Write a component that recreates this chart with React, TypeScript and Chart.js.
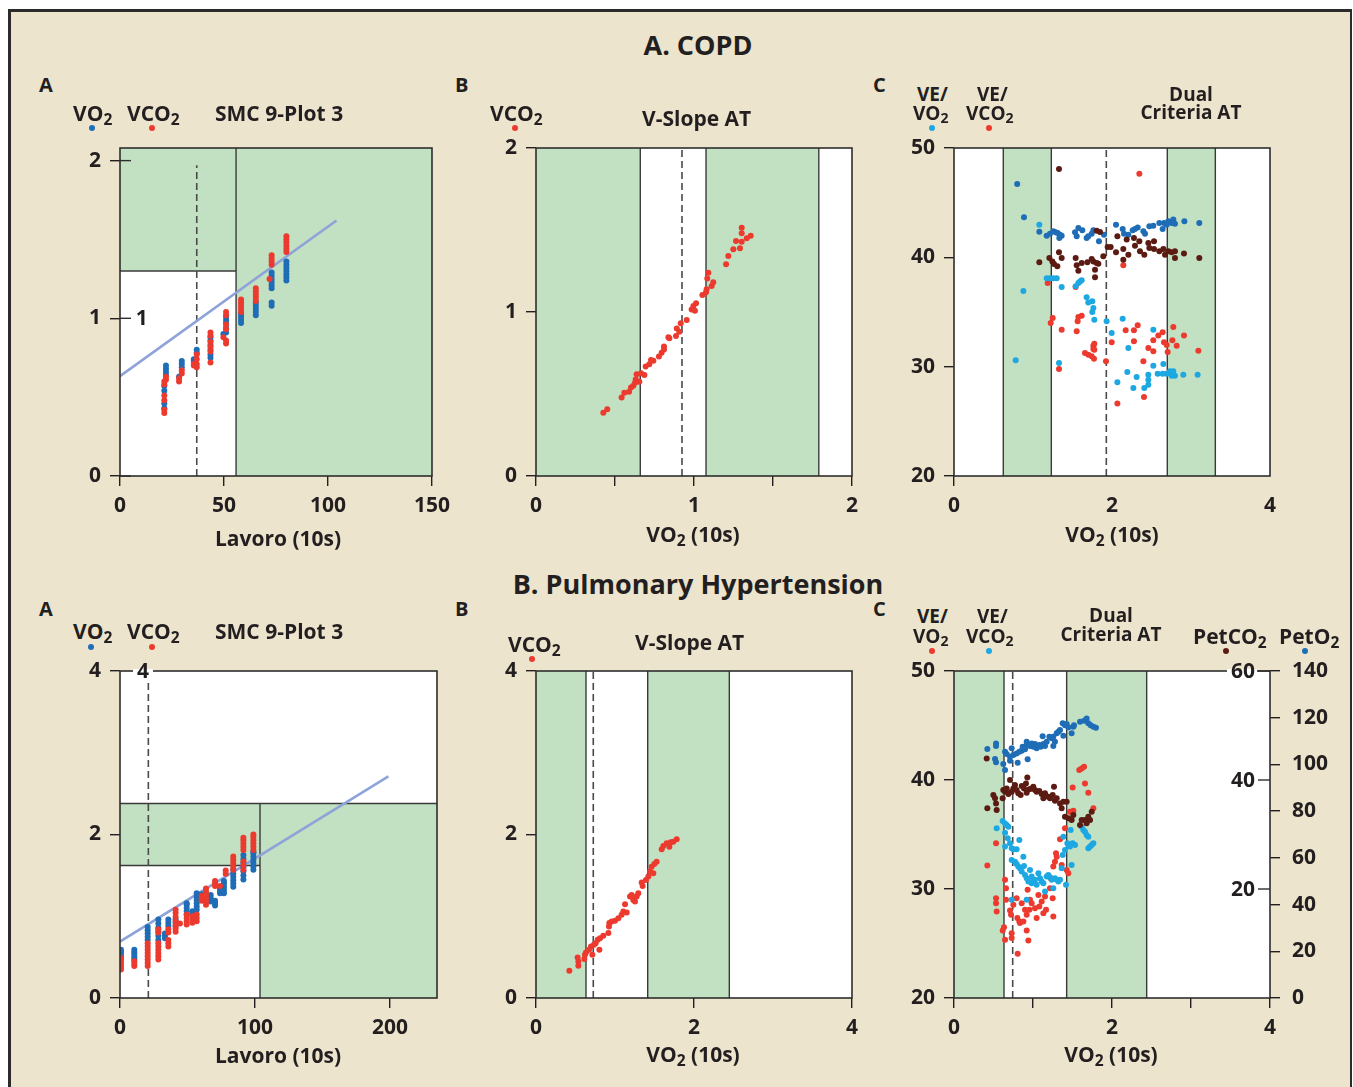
import React, { useEffect, useRef } from 'react';
import { Chart, registerables } from 'chart.js';

Chart.register(...registerables);

type P = [number, number];

const INK = '#231f20';
const RED = '#ec3a2f';
const BLUE = '#1e6db6';
const LIGHT = '#1da8e2';
const BROWN = '#5b1b12';
const GREEN = '#c2e0c2';
const FIT = '#8ea3d9';
const BEIGE = '#ede4cd';
const RULE = '#3a3a3a';
const FONT = "'Open Sans', 'Noto Sans', 'DejaVu Sans', sans-serif";
const W_TXT = 700;

// ---------------- A. COPD ----------------
// Panel A: VO2 / VCO2 vs Lavoro
const A1_VO2: P[] = [
  [21.3, 0.43], [21.3, 0.46], [21.3, 0.54], [21.3, 0.57],
  [22.1, 0.64], [22.1, 0.66], [22.1, 0.68], [22.1, 0.70],
  [28.4, 0.63],
  [29.7, 0.69], [29.7, 0.71], [29.7, 0.73],
  [35.5, 0.73], [35.5, 0.74],
  [36.9, 0.78], [36.9, 0.80],
  [43.5, 0.75], [43.5, 0.77], [43.5, 0.80], [43.5, 0.83], [43.5, 0.86], [43.5, 0.88],
  [49.7, 0.90],
  [51.0, 0.91], [51.0, 0.94], [51.0, 0.97], [51.0, 0.99], [51.0, 1.01],
  [58.2, 0.97], [58.2, 0.99], [58.2, 1.01], [58.2, 1.03],
  [65.3, 1.02], [65.3, 1.04], [65.3, 1.06], [65.3, 1.08], [65.3, 1.10],
  [72.9, 1.08], [72.9, 1.10], [72.9, 1.19], [72.9, 1.21], [72.9, 1.23], [72.9, 1.25], [72.9, 1.27], [72.9, 1.29],
  [80.0, 1.24], [80.0, 1.26], [80.0, 1.28], [80.0, 1.30], [80.0, 1.32], [80.0, 1.34], [80.0, 1.36],
];
const A1_VCO2: P[] = [
  [21.3, 0.40], [21.3, 0.42], [21.3, 0.48], [21.3, 0.51], [21.3, 0.58], [21.3, 0.60],
  [22.1, 0.61], [22.1, 0.63],
  [28.4, 0.60], [28.4, 0.62],
  [29.7, 0.65], [29.7, 0.67],
  [35.5, 0.70], [35.5, 0.71],
  [36.9, 0.69], [36.9, 0.71], [36.9, 0.74], [36.9, 0.77],
  [43.5, 0.72], [43.5, 0.79], [43.5, 0.82], [43.5, 0.85], [43.5, 0.89], [43.5, 0.91],
  [49.7, 0.88],
  [51.0, 0.84], [51.0, 0.86], [51.0, 0.93], [51.0, 0.96], [51.0, 1.02], [51.0, 1.04],
  [58.2, 1.04], [58.2, 1.06], [58.2, 1.08], [58.2, 1.10], [58.2, 1.12],
  [65.3, 1.11], [65.3, 1.13], [65.3, 1.15], [65.3, 1.17], [65.3, 1.19],
  [71.9, 1.25],
  [72.9, 1.34], [72.9, 1.36], [72.9, 1.38], [72.9, 1.40],
  [80.0, 1.42], [80.0, 1.44], [80.0, 1.46], [80.0, 1.48], [80.0, 1.50], [80.0, 1.52],
];
const A1_FIT: P[] = [[0, 0.633], [104.1, 1.62]];
const A1_X_TICKS = [0, 50, 100, 150];
const A1_Y_TICKS = [0, 1, 2];
const A1_SPLIT: P = [55.8, 1.3];
const A1_AT = 36.9;

// Panel B: V-slope
const B1_VCO2: P[] = [
  [0.426, 0.386], [0.451, 0.407], [0.542, 0.478], [0.559, 0.508], [0.589, 0.514], [0.601, 0.539],
  [0.616, 0.551], [0.627, 0.569], [0.631, 0.589], [0.637, 0.620], [0.654, 0.575], [0.665, 0.626],
  [0.686, 0.616], [0.694, 0.667], [0.717, 0.681], [0.728, 0.707], [0.743, 0.703], [0.778, 0.728],
  [0.795, 0.752], [0.810, 0.772], [0.810, 0.789], [0.838, 0.846], [0.844, 0.840], [0.886, 0.854],
  [0.891, 0.900], [0.907, 0.880], [0.916, 0.931], [0.954, 0.951], [0.985, 1.016], [0.996, 1.037],
  [1.006, 1.008], [1.013, 1.053], [1.053, 1.104], [1.076, 1.120], [1.080, 1.138], [1.084, 1.205],
  [1.091, 1.240], [1.112, 1.159], [1.122, 1.181], [1.203, 1.291], [1.217, 1.341], [1.249, 1.382],
  [1.266, 1.433], [1.291, 1.388], [1.302, 1.429], [1.302, 1.480], [1.302, 1.514], [1.334, 1.449],
  [1.359, 1.465],
];
const B1_BANDS: P[] = [[0, 0.66], [1.076, 1.79]];
const B1_AT = 0.924;

// Panel C: dual criteria
const C1_VE_VO2: P[] = [
  [0.781, 30.58], [0.878, 36.92], [1.08, 42.99], [1.173, 38.08], [1.215, 38.08], [1.257, 38.08],
  [1.300, 38.08], [1.363, 37.29], [1.540, 37.35], [1.574, 37.65], [1.595, 37.80], [1.616, 37.90],
  [1.679, 36.34], [1.700, 35.88], [1.751, 35.98], [1.764, 35.37], [1.751, 35.0], [1.776, 34.30],
  [1.932, 34.15], [1.996, 33.08], [2.135, 34.39], [2.207, 31.71], [2.194, 29.51], [2.270, 28.05],
  [2.312, 29.05], [2.409, 28.05], [2.460, 29.27], [2.460, 28.81], [2.460, 28.35], [2.523, 30.09],
  [2.523, 33.38], [2.578, 29.36], [2.641, 29.36], [2.650, 30.24], [2.692, 29.36], [2.734, 29.57],
  [2.755, 29.18], [2.776, 29.57], [2.797, 29.18], [2.903, 29.27], [3.084, 29.27], [2.068, 28.57],
  [1.329, 30.34],
];
const C1_VE_VCO2: P[] = [
  [2.346, 47.65], [2.143, 39.27], [1.186, 37.65], [1.249, 34.45], [1.224, 33.99], [1.363, 33.38],
  [1.540, 37.29], [1.553, 33.23], [1.565, 34.15], [1.574, 34.54], [1.616, 34.66], [1.658, 31.25],
  [1.700, 31.10], [1.743, 30.95], [1.772, 30.73], [1.764, 31.92], [1.776, 32.10], [1.764, 31.62],
  [1.776, 31.55], [1.924, 30.49], [1.996, 32.23], [2.068, 26.62], [2.173, 33.32], [2.278, 33.32],
  [2.278, 32.32], [2.325, 33.78], [2.397, 30.49], [2.405, 27.23], [2.460, 31.71], [2.523, 31.40],
  [2.523, 32.41], [2.586, 32.84], [2.641, 33.14], [2.658, 32.23], [2.692, 31.98], [2.705, 31.34],
  [2.764, 32.41], [2.776, 33.63], [2.819, 31.92], [2.911, 32.84], [3.093, 31.46], [1.329, 29.79],
];
const C1_PETO2: P[] = [
  [0.80, 46.7], [0.886, 43.66], [1.08, 42.35], [1.173, 41.98], [1.215, 42.16], [1.257, 42.38],
  [1.287, 42.29], [1.312, 42.23], [1.342, 42.07], [1.333, 41.77], [1.363, 41.98], [1.532, 42.29],
  [1.553, 41.92], [1.574, 42.68], [1.624, 42.47], [1.679, 41.77], [1.700, 41.92], [1.743, 42.16],
  [1.764, 42.47], [1.835, 41.46], [1.899, 42.07], [2.051, 42.99], [2.135, 42.59], [2.152, 42.16],
  [2.207, 42.07], [2.262, 42.47], [2.291, 42.59], [2.325, 42.74], [2.397, 42.38], [2.418, 42.16],
  [2.473, 42.84], [2.523, 42.90], [2.599, 43.14], [2.641, 42.59], [2.658, 43.14], [2.692, 42.99],
  [2.713, 43.29], [2.755, 43.14], [2.776, 43.45], [2.797, 43.08], [2.916, 43.29], [3.105, 43.14],
];
const C1_PETCO2: P[] = [
  [1.329, 48.08], [1.08, 39.54], [1.207, 39.94], [1.245, 39.63], [1.266, 39.39], [1.308, 39.18],
  [1.329, 40.46], [1.363, 39.94], [1.540, 39.94], [1.553, 39.27], [1.574, 38.78], [1.616, 39.48],
  [1.688, 39.54], [1.743, 39.85], [1.764, 39.63], [1.785, 38.87], [1.785, 38.17], [1.806, 39.48],
  [1.827, 39.42], [1.806, 42.44], [1.848, 42.32], [1.890, 40.09], [1.945, 40.95], [1.983, 40.95],
  [2.051, 40.46], [2.068, 41.92], [2.143, 40.76], [2.143, 39.79], [2.186, 41.62], [2.207, 40.24],
  [2.278, 41.77], [2.291, 41.07], [2.346, 41.46], [2.354, 40.55], [2.409, 40.24], [2.460, 41.31],
  [2.473, 40.85], [2.532, 41.46], [2.532, 40.76], [2.599, 40.55], [2.650, 40.76], [2.671, 40.24],
  [2.713, 40.55], [2.755, 40.46], [2.797, 40.55], [2.797, 39.94], [2.911, 40.34], [3.105, 39.94],
];
const C1_BANDS: P[] = [[0.624, 1.232], [2.70, 3.308]];
const C1_AT = 1.928;

// ---------------- B. Pulmonary Hypertension ----------------
const A2_VO2: P[] = [
  [0.7, 0.51], [0.7, 0.54], [0.7, 0.57], [0.7, 0.59],
  [10.6, 0.47], [10.6, 0.50], [10.6, 0.53], [10.6, 0.56], [10.6, 0.59],
  [20.5, 0.71], [20.5, 0.75], [20.5, 0.79], [20.5, 0.83], [20.5, 0.87],
  [28.4, 0.71], [28.4, 0.76], [28.4, 0.81], [28.4, 0.86], [28.4, 0.91], [28.4, 0.96],
  [33.3, 0.73], [33.3, 0.76], [33.3, 0.79],
  [35.8, 0.88], [35.8, 0.92], [35.8, 0.96],
  [41.2, 0.88], [41.2, 0.92], [41.2, 0.96],
  [49.4, 1.02], [49.4, 1.06], [49.4, 1.10], [49.4, 1.14], [49.4, 1.16],
  [53.6, 1.02], [53.6, 1.06],
  [56.8, 1.08], [56.8, 1.12], [56.8, 1.16], [56.8, 1.20], [56.8, 1.24], [56.8, 1.28],
  [60.5, 1.20], [60.5, 1.24], [60.5, 1.27],
  [63.7, 1.23], [63.7, 1.26],
  [67.2, 1.18], [67.2, 1.22], [67.2, 1.26],
  [70.4, 1.13], [70.4, 1.16], [70.4, 1.19],
  [74.1, 1.28], [74.1, 1.31], [74.1, 1.34],
  [77.0, 1.28], [77.0, 1.32], [77.0, 1.36], [77.0, 1.40], [77.0, 1.43],
  [83.9, 1.36], [83.9, 1.40], [83.9, 1.44], [83.9, 1.48], [83.9, 1.52], [83.9, 1.57],
  [91.4, 1.45], [91.4, 1.50], [91.4, 1.55], [91.4, 1.60], [91.4, 1.65], [91.4, 1.70], [91.4, 1.75],
  [98.8, 1.57], [98.8, 1.61], [98.8, 1.65], [98.8, 1.69], [98.8, 1.73], [98.8, 1.77], [98.8, 1.79],
];
const A2_VCO2: P[] = [
  [0.7, 0.35], [0.7, 0.38], [0.7, 0.41], [0.7, 0.44], [0.7, 0.47], [0.7, 0.49],
  [10.6, 0.39], [10.6, 0.42], [10.6, 0.45],
  [20.5, 0.39], [20.5, 0.43], [20.5, 0.47], [20.5, 0.51], [20.5, 0.55], [20.5, 0.59], [20.5, 0.63], [20.5, 0.67],
  [28.4, 0.47], [28.4, 0.51], [28.4, 0.55], [28.4, 0.59], [28.4, 0.63], [28.4, 0.67], [28.4, 0.80], [28.4, 0.84],
  [35.8, 0.63], [35.8, 0.67], [35.8, 0.71], [35.8, 0.80], [35.8, 0.84],
  [41.2, 0.81], [41.2, 0.85], [41.2, 0.89], [41.2, 0.94], [41.2, 0.99], [41.2, 1.04], [41.2, 1.08],
  [44.4, 0.91],
  [49.4, 0.90], [49.4, 0.94], [49.4, 0.98], [49.4, 1.02],
  [53.6, 0.92], [53.6, 0.96], [53.6, 1.00],
  [56.8, 0.94], [56.8, 0.98], [56.8, 1.02],
  [60.5, 1.19], [60.5, 1.22], [60.5, 1.25],
  [63.7, 1.14], [63.7, 1.18], [63.7, 1.22], [63.7, 1.26], [63.7, 1.30], [63.7, 1.34],
  [70.4, 1.37], [70.4, 1.40], [70.4, 1.43],
  [74.1, 1.37],
  [78.3, 1.52], [78.3, 1.56],
  [83.9, 1.57], [83.9, 1.61], [83.9, 1.65], [83.9, 1.69], [83.9, 1.73],
  [91.4, 1.57], [91.4, 1.62], [91.4, 1.67], [91.4, 1.81], [91.4, 1.85], [91.4, 1.89], [91.4, 1.93], [91.4, 1.96],
  [98.8, 1.81], [98.8, 1.85], [98.8, 1.89], [98.8, 1.93], [98.8, 1.97], [98.8, 2.00],
];
const A2_FIT: P[] = [[0, 0.69], [198.8, 2.71]];
const A2_X_TICKS = [0, 100, 200];
const A2_Y_TICKS = [0, 2, 4];
const A2_SPLIT: [number, number, number] = [103.7, 1.62, 2.38];
const A2_AT = 21;

const B2_VCO2: P[] = [
  [0.422, 0.333], [0.527, 0.496], [0.536, 0.447], [0.536, 0.394], [0.612, 0.476], [0.620, 0.529],
  [0.633, 0.557], [0.671, 0.590], [0.696, 0.630], [0.713, 0.529], [0.734, 0.651], [0.755, 0.671],
  [0.781, 0.712], [0.802, 0.590], [0.810, 0.732], [0.852, 0.761], [0.916, 0.794], [0.924, 0.874],
  [0.928, 0.916], [0.958, 0.935], [1.000, 0.944], [1.042, 0.977], [1.084, 1.017], [1.105, 1.057],
  [1.127, 1.148], [1.148, 1.045], [1.190, 1.241], [1.211, 1.261], [1.232, 1.200], [1.253, 1.180],
  [1.274, 1.241], [1.295, 1.282], [1.338, 1.412], [1.350, 1.371], [1.392, 1.444], [1.422, 1.485],
  [1.443, 1.546], [1.464, 1.607], [1.485, 1.526], [1.498, 1.640], [1.527, 1.668], [1.591, 1.819],
  [1.612, 1.860], [1.654, 1.892], [1.688, 1.851], [1.705, 1.905], [1.738, 1.912], [1.781, 1.941],
];
const B2_BANDS: P[] = [[0, 0.633], [1.414, 2.447]];
const B2_AT = 0.725;

const C2_VE_VO2: P[] = [
  [0.422, 32.15], [0.532, 34.19], [0.532, 29.16], [0.532, 28.70], [0.540, 27.94], [0.616, 26.20],
  [0.633, 26.50], [0.646, 25.34], [0.646, 30.84], [0.658, 30.07], [0.658, 29.01], [0.709, 28.03],
  [0.722, 27.63], [0.730, 25.95], [0.730, 25.50], [0.751, 28.55], [0.793, 29.16], [0.802, 27.33],
  [0.806, 24.06], [0.827, 27.02], [0.835, 26.87], [0.857, 28.70], [0.878, 27.02], [0.899, 28.09],
  [0.920, 26.20], [0.920, 27.63], [0.932, 29.92], [0.941, 25.28], [0.954, 28.09], [0.962, 29.01],
  [0.983, 28.70], [1.025, 28.24], [1.046, 27.33], [1.068, 29.46], [1.080, 28.39], [1.110, 28.85],
  [1.131, 27.78], [1.152, 29.31], [1.165, 28.09], [1.215, 30.07], [1.224, 30.99], [1.249, 29.16],
  [1.257, 27.48], [1.257, 32.06], [1.278, 32.51], [1.291, 33.28], [1.300, 32.97], [1.342, 34.56],
  [1.363, 32.21], [1.405, 35.57], [1.426, 31.75], [1.447, 31.45], [1.468, 37.09], [1.502, 39.32],
  [1.586, 40.91], [1.616, 41.06], [1.646, 41.21], [1.658, 39.69], [1.700, 38.83], [1.764, 37.40],
  [1.489, 37.09], [1.511, 37.18],
];
const C2_VE_VCO2: P[] = [
  [0.540, 35.57], [0.616, 36.24], [0.646, 36.02], [0.667, 35.87], [0.688, 35.72], [0.646, 35.17],
  [0.646, 33.89], [0.680, 34.65], [0.709, 34.19], [0.730, 33.74], [0.751, 33.64], [0.793, 33.64],
  [0.827, 34.50], [0.730, 32.67], [0.772, 32.51], [0.793, 32.30], [0.814, 32.06], [0.835, 31.90],
  [0.857, 31.60], [0.878, 32.97], [0.886, 32.12], [0.899, 31.29], [0.920, 30.99], [0.941, 30.68],
  [0.962, 31.75], [0.983, 31.14], [0.983, 30.53], [1.004, 30.78], [1.025, 30.84], [1.046, 30.38],
  [1.068, 31.45], [1.089, 30.99], [1.110, 30.68], [1.131, 30.53], [1.152, 29.77], [1.173, 31.14],
  [1.194, 31.29], [1.215, 31.08], [1.236, 30.84], [1.257, 30.07], [1.278, 30.99], [1.300, 30.84],
  [1.321, 30.68], [1.342, 30.84], [1.363, 31.90], [1.376, 33.12], [1.384, 34.80], [1.405, 33.58],
  [1.418, 30.38], [1.435, 34.19], [1.447, 34.04], [1.468, 33.89], [1.477, 35.41], [1.489, 32.21],
  [1.502, 34.19], [1.532, 34.04], [1.616, 35.72], [1.637, 35.41], [1.658, 35.26], [1.679, 34.96],
  [1.700, 34.80], [1.700, 33.74], [1.722, 33.89], [1.743, 34.04], [1.764, 34.19], [0.730, 29.01],
  [0.920, 29.01],
];
const C2_PETO2: P[] = [
  [0.422, 106.6], [0.532, 109.0], [0.532, 107.9], [0.519, 102.3], [0.532, 100.9], [0.624, 100.2],
  [0.646, 97.6], [0.646, 105.4], [0.667, 104.5], [0.709, 103.3], [0.709, 101.6], [0.730, 106.9],
  [0.751, 104.0], [0.793, 104.7], [0.806, 100.7], [0.827, 105.4], [0.857, 105.9], [0.869, 107.6],
  [0.899, 106.5], [0.920, 109.7], [0.920, 108.3], [0.932, 102.2], [0.962, 107.9], [0.983, 109.0],
  [1.004, 107.6], [1.025, 108.7], [1.046, 106.9], [1.080, 108.3], [1.097, 107.6], [1.122, 112.1],
  [1.131, 108.7], [1.152, 107.9], [1.173, 109.7], [1.207, 111.8], [1.236, 111.2], [1.257, 111.8],
  [1.257, 107.9], [1.278, 109.7], [1.300, 113.3], [1.321, 114.0], [1.342, 114.7], [1.376, 117.6],
  [1.384, 112.3], [1.405, 116.8], [1.426, 117.3], [1.447, 115.9], [1.489, 113.3], [1.511, 116.1],
  [1.519, 116.8], [1.595, 118.3], [1.646, 118.7], [1.679, 119.7], [1.700, 117.6], [1.730, 116.8],
  [1.764, 116.1], [1.797, 115.7],
];
const C2_PETCO2: P[] = [
  [0.414, 43.96], [0.422, 34.80], [0.498, 37.24], [0.519, 36.63], [0.532, 35.71], [0.540, 34.49],
  [0.616, 36.63], [0.624, 38.15], [0.646, 37.84], [0.667, 38.46], [0.688, 37.42], [0.709, 39.98],
  [0.730, 37.84], [0.751, 38.46], [0.772, 39.07], [0.793, 38.15], [0.814, 37.55], [0.844, 37.24],
  [0.857, 38.88], [0.886, 38.46], [0.911, 39.38], [0.920, 37.66], [0.928, 40.48], [0.954, 38.28],
  [0.983, 38.46], [1.004, 38.75], [1.025, 38.15], [1.046, 37.84], [1.080, 37.97], [1.110, 37.42],
  [1.131, 36.63], [1.152, 37.55], [1.194, 36.92], [1.215, 36.63], [1.249, 37.24], [1.266, 38.75],
  [1.278, 36.19], [1.300, 36.63], [1.342, 35.71], [1.363, 34.80], [1.384, 36.01], [1.426, 36.01],
  [1.405, 33.26], [1.447, 32.97], [1.489, 32.66], [1.511, 33.57], [1.595, 31.74], [1.616, 32.66],
  [1.658, 32.66], [1.679, 32.05], [1.700, 33.26], [1.722, 32.66], [1.743, 34.18],
];
const C2_BANDS: P[] = [[0, 0.633], [1.426, 2.439]];
const C2_AT = 0.743;
const C2_PETO2_TICKS = [0, 20, 40, 60, 80, 100, 120, 140];
const C2_PETCO2_TICKS = [20, 40, 60];

// ---------------- chart plumbing ----------------
interface AxisSpec { min: number; max: number; ticks: number[]; labels?: number[]; marks?: number[] }
interface SeriesSpec { data: P[]; color: string; axis?: string }
interface RuleSpec { x0: number; y0: number; x1: number; y1: number; dashed?: boolean }
interface InnerLabel { text: string; x: number; y: number; erase?: boolean }
interface PanelSpec {
  box: [number, number, number, number];
  x: AxisSpec;
  y: AxisSpec;
  y2?: AxisSpec;
  y1?: { min: number; max: number; ticks: number[] };
  series: SeriesSpec[];
  fit?: P[];
  bands: [number, number, number, number][];
  rules: RuleSpec[];
  crossTicks?: boolean;
  inner?: InnerLabel[];
}

const TICK_FONT = { family: FONT, size: 21, weight: '700' as const };

function axisOpts(a: AxisSpec, pos: 'bottom' | 'left' | 'right', size: number, pad: number) {
  const labels = a.labels ?? a.ticks;
  const marks = a.marks ?? a.ticks;
  return {
    type: 'linear',
    position: pos,
    min: a.min,
    max: a.max,
    afterBuildTicks: (s: any) => {
      s.ticks = a.ticks.map((v) => ({ value: v }));
    },
    afterFit: (s: any) => {
      if (pos === 'bottom') s.height = size;
      else s.width = size;
    },
    ticks: {
      autoSkip: false,
      maxRotation: 0,
      minRotation: 0,
      padding: pad,
      color: INK,
      font: TICK_FONT,
      callback: (v: any) => (labels.includes(Number(v)) ? String(v) : ''),
    },
    grid: {
      display: true,
      drawOnChartArea: false,
      drawTicks: true,
      tickLength: 10,
      lineWidth: 1.4,
      tickWidth: 1.4,
      color: 'rgba(0,0,0,0)',
      tickColor: (c: any) => (c.tick && marks.includes(c.tick.value) ? INK : 'rgba(0,0,0,0)'),
    },
    border: { display: false },
  };
}

function decoPlugin(p: PanelSpec) {
  return {
    id: 'deco',
    beforeDraw(chart: any) {
      const { ctx, chartArea: a } = chart;
      ctx.save();
      ctx.fillStyle = '#ffffff';
      ctx.fillRect(a.left, a.top, a.right - a.left, a.bottom - a.top);
      ctx.restore();
    },
    beforeDatasetsDraw(chart: any) {
      const { ctx } = chart;
      const xs = chart.scales.x;
      const ys = chart.scales.y;
      ctx.save();
      ctx.fillStyle = GREEN;
      for (const [x0, x1, y0, y1] of p.bands) {
        const px0 = xs.getPixelForValue(x0);
        const px1 = xs.getPixelForValue(x1);
        const py0 = ys.getPixelForValue(y0);
        const py1 = ys.getPixelForValue(y1);
        ctx.fillRect(Math.min(px0, px1), Math.min(py0, py1), Math.abs(px1 - px0), Math.abs(py1 - py0));
      }
      for (const r of p.rules) {
        ctx.beginPath();
        ctx.setLineDash(r.dashed ? [7, 4] : []);
        ctx.strokeStyle = r.dashed ? '#4a4a4a' : RULE;
        ctx.lineWidth = r.dashed ? 1.6 : 1.4;
        ctx.moveTo(xs.getPixelForValue(r.x0), ys.getPixelForValue(r.y0));
        ctx.lineTo(xs.getPixelForValue(r.x1), ys.getPixelForValue(r.y1));
        ctx.stroke();
      }
      ctx.restore();
    },
    afterDatasetsDraw(chart: any) {
      const { ctx, chartArea: a } = chart;
      const xs = chart.scales.x;
      const ys = chart.scales.y;
      ctx.save();
      ctx.setLineDash([]);
      ctx.strokeStyle = '#2e2e2e';
      ctx.lineWidth = 1.6;
      ctx.strokeRect(a.left, a.top, a.right - a.left, a.bottom - a.top);
      if (p.crossTicks) {
        ctx.lineWidth = 1.4;
        for (const v of p.y.ticks) {
          const py = ys.getPixelForValue(v);
          ctx.beginPath();
          ctx.moveTo(a.left, py);
          ctx.lineTo(a.left + 11, py);
          ctx.stroke();
        }
      }
      ctx.font = `700 21px ${FONT}`;
      ctx.textBaseline = 'middle';
      ctx.textAlign = 'center';
      for (const l of p.inner || []) {
        const px = xs.getPixelForValue(l.x);
        const py = ys.getPixelForValue(l.y);
        const w = ctx.measureText(l.text).width;
        if (l.erase) {
          ctx.fillStyle = '#ffffff';
          ctx.fillRect(px - w / 2 - 4, py - 2, w + 8, 4);
        }
        ctx.fillStyle = INK;
        ctx.fillText(l.text, px, py + 1);
      }
      if (p.y1) {
        const s = chart.scales.y1;
        ctx.textAlign = 'right';
        ctx.lineWidth = 1.4;
        for (const v of p.y1.ticks) {
          const py = s.getPixelForValue(v);
          const txt = String(v);
          const w = ctx.measureText(txt).width;
          ctx.fillStyle = '#ffffff';
          ctx.fillRect(a.right - 16 - w - 3, py - 2, w + 6, 4);
          ctx.strokeStyle = '#2e2e2e';
          ctx.beginPath();
          ctx.moveTo(a.right - 12, py);
          ctx.lineTo(a.right, py);
          ctx.stroke();
          ctx.fillStyle = INK;
          ctx.fillText(txt, a.right - 15, py + 1);
        }
      }
      ctx.restore();
    },
  };
}

const Y_W = 60;
const X_H = 50;
const TOP_PAD = 25;

function buildConfig(p: PanelSpec): any {
  const datasets: any[] = [];
  if (p.fit) {
    datasets.push({
      data: p.fit.map(([x, y]) => ({ x, y })),
      showLine: true,
      borderColor: FIT,
      borderWidth: 2.6,
      pointRadius: 0,
      pointHoverRadius: 0,
      order: 10,
      yAxisID: 'y',
    });
  }
  p.series.forEach((s, i) => {
    datasets.push({
      data: s.data.map(([x, y]) => ({ x, y })),
      yAxisID: s.axis || 'y',
      pointRadius: 3,
      pointHoverRadius: 3,
      pointBackgroundColor: s.color,
      pointBorderWidth: 0,
      borderColor: s.color,
      backgroundColor: s.color,
      showLine: false,
      order: 1 + i,
    });
  });
  const scales: any = {
    x: axisOpts(p.x, 'bottom', X_H, 7),
    y: axisOpts(p.y, 'left', Y_W, 9),
  };
  if (p.y2) scales.y2 = axisOpts(p.y2, 'right', 80, 12);
  if (p.y1) scales.y1 = { type: 'linear', display: false, min: p.y1.min, max: p.y1.max };
  return {
    type: 'scatter',
    data: { datasets },
    options: {
      animation: false,
      responsive: false,
      maintainAspectRatio: false,
      devicePixelRatio: 1,
      events: [],
      layout: { padding: { top: TOP_PAD, right: p.y2 ? 0 : 20, left: 0, bottom: 0 } },
      plugins: { legend: { display: false }, tooltip: { enabled: false }, title: { display: false } },
      scales,
    },
    plugins: [decoPlugin(p)],
  };
}

function Panel({ spec }: { spec: PanelSpec }) {
  const ref = useRef<HTMLCanvasElement>(null);
  const [l, t, r, b] = spec.box;
  const left = l - Y_W;
  const top = t - TOP_PAD;
  const W = r - l + Y_W + (spec.y2 ? 80 : 20);
  const H = b - t + TOP_PAD + X_H;
  useEffect(() => {
    if (!ref.current) return;
    const chart = new Chart(ref.current, buildConfig(spec));
    return () => chart.destroy();
  }, []);
  return (
    <canvas
      ref={ref}
      width={W}
      height={H}
      style={{ position: 'absolute', left, top, width: W, height: H }}
    />
  );
}

const fullRules = (xs: number[], y0: number, y1: number, at: number): RuleSpec[] => [
  ...xs.map((x) => ({ x0: x, y0, x1: x, y1 })),
  { x0: at, y0, x1: at, y1, dashed: true },
];

const PANELS: PanelSpec[] = [
  {
    box: [120, 148, 437, 476],
    x: { min: 0, max: 150, ticks: A1_X_TICKS },
    y: { min: 0, max: 2.08, ticks: A1_Y_TICKS },
    series: [
      { data: A1_VCO2, color: RED },
      { data: A1_VO2, color: BLUE },
    ],
    fit: A1_FIT,
    bands: [
      [0, A1_SPLIT[0], A1_SPLIT[1], 2.08],
      [A1_SPLIT[0], 150, 0, 2.08],
    ],
    rules: [
      { x0: A1_SPLIT[0], y0: 0, x1: A1_SPLIT[0], y1: 2.08 },
      { x0: 0, y0: A1_SPLIT[1], x1: A1_SPLIT[0], y1: A1_SPLIT[1] },
      { x0: A1_AT, y0: 0, x1: A1_AT, y1: 1.97, dashed: true },
    ],
    crossTicks: true,
    inner: [{ text: '1', x: 10.4, y: 1 }],
  },
  {
    box: [536, 148, 852, 476],
    x: { min: 0, max: 2, ticks: [0, 0.5, 1, 1.5, 2], labels: [0, 1, 2] },
    y: { min: 0, max: 2, ticks: [0, 1, 2] },
    series: [{ data: B1_VCO2, color: RED }],
    bands: B1_BANDS.map(([a, b]) => [a, b, 0, 2] as [number, number, number, number]),
    rules: fullRules([B1_BANDS[0][1], B1_BANDS[1][0], B1_BANDS[1][1]], 0, 2, B1_AT),
  },
  {
    box: [954, 148, 1270, 476],
    x: { min: 0, max: 4, ticks: [0, 2, 4], marks: [0] },
    y: { min: 20, max: 50, ticks: [20, 30, 40, 50] },
    series: [
      { data: C1_PETCO2, color: BROWN },
      { data: C1_PETO2, color: BLUE },
      { data: C1_VE_VO2, color: LIGHT },
      { data: C1_VE_VCO2, color: RED },
    ],
    bands: C1_BANDS.map(([a, b]) => [a, b, 20, 50] as [number, number, number, number]),
    rules: fullRules([C1_BANDS[0][0], C1_BANDS[0][1], C1_BANDS[1][0], C1_BANDS[1][1]], 20, 50, C1_AT),
  },
  {
    box: [120, 671, 437, 998],
    x: { min: 0, max: 234.8, ticks: A2_X_TICKS },
    y: { min: 0, max: 4, ticks: A2_Y_TICKS },
    series: [
      { data: A2_VCO2, color: RED },
      { data: A2_VO2, color: BLUE },
    ],
    fit: A2_FIT,
    bands: [
      [0, A2_SPLIT[0], A2_SPLIT[1], A2_SPLIT[2]],
      [A2_SPLIT[0], 234.8, 0, A2_SPLIT[2]],
    ],
    rules: [
      { x0: A2_SPLIT[0], y0: 0, x1: A2_SPLIT[0], y1: A2_SPLIT[2] },
      { x0: 0, y0: A2_SPLIT[2], x1: 234.8, y1: A2_SPLIT[2] },
      { x0: 0, y0: A2_SPLIT[1], x1: A2_SPLIT[0], y1: A2_SPLIT[1] },
      { x0: A2_AT, y0: 0, x1: A2_AT, y1: 3.88, dashed: true },
    ],
    inner: [{ text: '4', x: 17, y: 4, erase: true }],
  },
  {
    box: [536, 671, 852, 998],
    x: { min: 0, max: 4, ticks: [0, 2, 4] },
    y: { min: 0, max: 4, ticks: [0, 2, 4] },
    series: [{ data: B2_VCO2, color: RED }],
    bands: B2_BANDS.map(([a, b]) => [a, b, 0, 4] as [number, number, number, number]),
    rules: fullRules([B2_BANDS[0][1], B2_BANDS[1][0], B2_BANDS[1][1]], 0, 4, B2_AT),
  },
  {
    box: [954, 671, 1270, 998],
    x: { min: 0, max: 4, ticks: [0, 1, 2, 3, 4], labels: [0, 2, 4] },
    y: { min: 20, max: 50, ticks: [20, 30, 40, 50] },
    y2: { min: 0, max: 140, ticks: C2_PETO2_TICKS },
    y1: { min: 0, max: 60, ticks: C2_PETCO2_TICKS },
    series: [
      { data: C2_PETO2, color: BLUE, axis: 'y2' },
      { data: C2_PETCO2, color: BROWN, axis: 'y1' },
      { data: C2_VE_VCO2, color: LIGHT },
      { data: C2_VE_VO2, color: RED },
    ],
    bands: C2_BANDS.map(([a, b]) => [a, b, 20, 50] as [number, number, number, number]),
    rules: fullRules([C2_BANDS[0][1], C2_BANDS[1][0], C2_BANDS[1][1]], 20, 50, C2_AT),
  },
];

// ---------------- text helpers ----------------
function Txt({ x, y, s = 21, w = W_TXT, center = false, children }: any) {
  const style: React.CSSProperties = {
    position: 'absolute',
    top: y - 0.888 * s,
    fontFamily: FONT,
    fontSize: s,
    fontWeight: w,
    lineHeight: 1,
    color: INK,
    whiteSpace: 'nowrap',
  };
  if (center) {
    style.left = x - 300;
    style.width = 600;
    style.textAlign = 'center';
  } else {
    style.left = x;
  }
  return <div style={style}>{children}</div>;
}
const Sub = ({ children }: any) => (
  <span style={{ fontSize: '0.74em', position: 'relative', top: '0.22em' }}>{children}</span>
);
const Dot = ({ x, y, c }: any) => (
  <div
    style={{
      position: 'absolute',
      left: x - 3.3,
      top: y - 3.3,
      width: 6.6,
      height: 6.6,
      borderRadius: '50%',
      background: c,
    }}
  />
);

export default function App() {
  return (
    <div
      style={{
        position: 'absolute',
        left: 0,
        top: 0,
        width: 1353,
        height: 1087,
        overflow: 'hidden',
        background: '#ffffff',
      }}
    >
      <div
        style={{
          position: 'absolute',
          left: 8,
          top: 9,
          width: 1344,
          height: 1100,
          boxSizing: 'border-box',
          background: BEIGE,
          borderLeft: '3px solid #2b2b2b',
          borderTop: '3px solid #2b2b2b',
          borderRight: '2px solid #2b2b2b',
        }}
      />
      {PANELS.map((p, i) => (
        <Panel key={i} spec={p} />
      ))}

      {/* Titles */}
      <Txt x={698} y={55} s={27} w={700} center>A. COPD</Txt>
      <Txt x={698} y={594} s={27} w={700} center>B. Pulmonary Hypertension</Txt>

      {/* Panel letters */}
      <Txt x={39} y={93} s={20} w={700}>A</Txt>
      <Txt x={455} y={93} s={20} w={700}>B</Txt>
      <Txt x={873} y={93} s={20} w={700}>C</Txt>
      <Txt x={39} y={617} s={20} w={700}>A</Txt>
      <Txt x={455} y={617} s={20} w={700}>B</Txt>
      <Txt x={873} y={617} s={20} w={700}>C</Txt>

      {/* Row A legends */}
      <Txt x={73} y={122}>VO<Sub>2</Sub></Txt>
      <Dot x={92} y={128} c={BLUE} />
      <Txt x={127} y={122}>VCO<Sub>2</Sub></Txt>
      <Dot x={152} y={128} c={RED} />
      <Txt x={215} y={122}>SMC 9-Plot 3</Txt>

      <Txt x={490} y={122}>VCO<Sub>2</Sub></Txt>
      <Dot x={515} y={128} c={RED} />
      <Txt x={642} y={127}>V-Slope AT</Txt>

      <Txt x={917} y={102} s={19}>VE/</Txt>
      <Txt x={913} y={121} s={19}>VO<Sub>2</Sub></Txt>
      <Dot x={932} y={128} c={LIGHT} />
      <Txt x={977} y={102} s={19}>VE/</Txt>
      <Txt x={966} y={121} s={19}>VCO<Sub>2</Sub></Txt>
      <Dot x={989} y={128} c={RED} />
      <Txt x={1191} y={102} s={19} center>Dual</Txt>
      <Txt x={1191} y={120} s={19} center>Criteria AT</Txt>

      {/* Row B legends */}
      <Txt x={73} y={640}>VO<Sub>2</Sub></Txt>
      <Dot x={91} y={647} c={BLUE} />
      <Txt x={127} y={640}>VCO<Sub>2</Sub></Txt>
      <Dot x={152} y={647} c={RED} />
      <Txt x={215} y={640}>SMC 9-Plot 3</Txt>

      <Txt x={508} y={653}>VCO<Sub>2</Sub></Txt>
      <Dot x={532} y={659} c={RED} />
      <Txt x={635} y={651}>V-Slope AT</Txt>

      <Txt x={917} y={624} s={19}>VE/</Txt>
      <Txt x={913} y={644} s={19}>VO<Sub>2</Sub></Txt>
      <Dot x={932} y={651} c={RED} />
      <Txt x={977} y={624} s={19}>VE/</Txt>
      <Txt x={966} y={644} s={19}>VCO<Sub>2</Sub></Txt>
      <Dot x={989} y={651} c={LIGHT} />
      <Txt x={1111} y={623} s={19} center>Dual</Txt>
      <Txt x={1111} y={642} s={19} center>Criteria AT</Txt>
      <Txt x={1193} y={645}>PetCO<Sub>2</Sub></Txt>
      <Dot x={1226} y={651} c={BROWN} />
      <Txt x={1279} y={645}>PetO<Sub>2</Sub></Txt>
      <Dot x={1305} y={651} c={BLUE} />

      {/* Axis titles */}
      <Txt x={278} y={547} center>Lavoro (10s)</Txt>
      <Txt x={693} y={543} center>VO<Sub>2</Sub> (10s)</Txt>
      <Txt x={1112} y={543} center>VO<Sub>2</Sub> (10s)</Txt>
      <Txt x={278} y={1064} center>Lavoro (10s)</Txt>
      <Txt x={693} y={1063} center>VO<Sub>2</Sub> (10s)</Txt>
      <Txt x={1111} y={1063} center>VO<Sub>2</Sub> (10s)</Txt>
    </div>
  );
}
